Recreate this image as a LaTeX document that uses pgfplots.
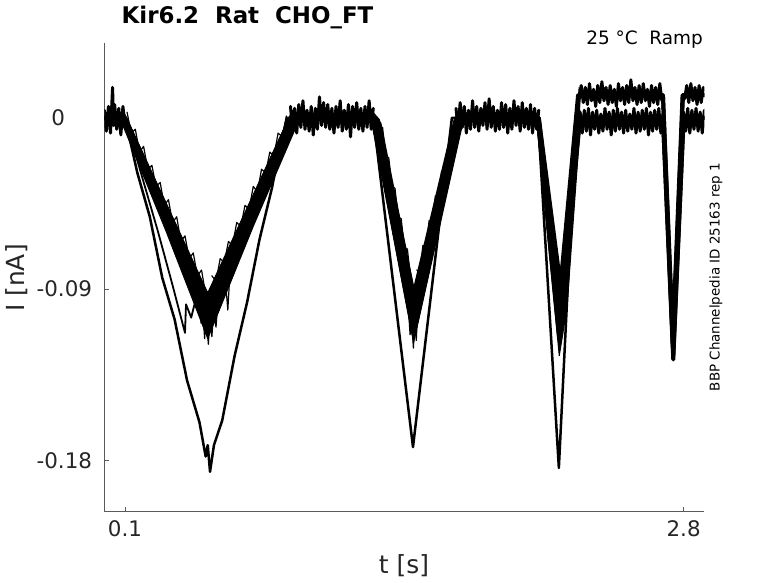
\documentclass[border=0pt]{standalone}
\usepackage{pgfplots}
\pgfplotsset{compat=1.18}
\usepackage{fontspec}
\setmainfont{DejaVu Sans}
\definecolor{axgray}{RGB}{90,90,90}
\definecolor{txt}{RGB}{38,38,38}
\begin{document}
\begin{tikzpicture}
\useasboundingbox (-104.3bp,-71.3bp) rectangle (673.7bp,511.7bp);
\begin{axis}[
 at={(0bp,0bp)}, anchor=south west,
 width=600bp, height=469bp, scale only axis,
 xmin=0, xmax=2.9, ymin=-0.207, ymax=0.0395,
 axis x line=bottom, axis y line=left,
 axis line style={-, draw=axgray, line width=0.6bp},
 tick style={draw=axgray, line width=0.6bp},
 tick align=inside, major tick length=5bp,
 xtick={0.1,2.8}, xticklabels={0.1,2.8},
 ytick={-0.18,-0.09,0}, yticklabels={-0.18,-0.09,0\hspace*{12bp}},
 ticklabel style={font=\fontsize{21.5}{24}\selectfont, text=txt},
 xticklabel style={yshift=-5bp},
 yticklabel style={anchor=center, xshift=-40bp},
 every axis plot/.append style={line join=round, line cap=round},
 noise/.style={black, line width=3bp},
 band/.style={black, line width=4bp},
 spikes/.style={black, line width=1.2bp},
 envelope/.style={draw=black, fill=black, line width=1bp},
]
% ---- noise in the flat parts (baseline 0)
\addplot[noise] coordinates {(0.000,0.004)(0.010,-0.007)(0.020,0.006)(0.030,-0.008)(0.040,0.016)(0.045,-0.004)(0.050,0.007)(0.060,-0.006)(0.070,0.005)(0.080,-0.009)(0.090,0.006)(0.100,-0.004)};
\addplot[noise] coordinates {(0.90,0.006)(0.91,-0.007)(0.92,0.005)(0.93,-0.008)(0.94,0.007)(0.95,-0.005)(0.96,0.009)(0.97,-0.006)(0.98,0.004)(0.99,-0.007)(1.00,0.006)(1.01,-0.009)(1.02,0.005)(1.03,-0.006)(1.04,0.011)(1.05,-0.004)(1.06,0.008)(1.07,-0.005)(1.08,0.007)(1.09,-0.006)(1.10,0.005)(1.11,-0.008)(1.12,0.006)(1.13,-0.005)(1.14,0.009)(1.15,-0.007)(1.16,0.004)(1.17,-0.006)(1.18,0.007)(1.19,-0.010)(1.20,0.006)(1.21,-0.005)(1.22,0.008)(1.23,-0.006)(1.24,0.005)(1.25,-0.007)(1.26,0.006)(1.27,-0.005)(1.28,0.009)(1.29,-0.006)(1.30,0.005)};
\addplot[noise] coordinates {(1.70,0.005)(1.71,-0.006)(1.72,0.008)(1.73,-0.005)(1.74,0.006)(1.75,-0.008)(1.76,0.004)(1.77,-0.006)(1.78,0.009)(1.79,-0.005)(1.80,0.006)(1.81,-0.007)(1.82,0.005)(1.83,-0.004)(1.84,0.008)(1.85,-0.006)(1.86,0.010)(1.87,-0.005)(1.88,0.006)(1.89,-0.007)(1.90,0.004)(1.91,-0.006)(1.92,0.008)(1.93,-0.005)(1.94,0.007)(1.95,-0.008)(1.96,0.005)(1.97,-0.006)(1.98,0.009)(1.99,-0.004)(2.00,0.006)(2.01,-0.007)(2.02,0.008)(2.03,-0.005)(2.04,0.005)(2.05,-0.006)(2.06,0.007)(2.07,-0.008)(2.08,0.005)(2.09,-0.006)(2.10,0.004)};
\addplot[noise] coordinates {(2.30,0.003)(2.31,-0.008)(2.32,0.004)(2.33,-0.007)(2.34,0.005)(2.35,-0.009)(2.36,0.003)(2.37,-0.006)(2.38,0.004)(2.39,-0.008)(2.40,0.002)(2.41,-0.007)(2.42,0.005)(2.43,-0.006)(2.44,0.003)(2.45,-0.009)(2.46,0.004)(2.47,-0.007)(2.48,0.005)(2.49,-0.006)(2.50,0.003)(2.51,-0.008)(2.52,0.004)(2.53,-0.007)(2.54,0.002)(2.55,-0.006)(2.56,0.005)(2.57,-0.008)(2.58,0.003)(2.59,-0.007)(2.60,0.004)(2.61,-0.006)(2.62,0.005)(2.63,-0.009)(2.64,0.003)(2.65,-0.007)(2.66,0.004)(2.67,-0.006)(2.68,0.005)(2.69,-0.008)(2.70,0.002)};
\addplot[noise] coordinates {(2.80,0.003)(2.81,-0.007)(2.82,0.005)(2.83,-0.008)(2.84,0.004)(2.85,-0.006)(2.86,0.005)(2.87,-0.007)(2.88,0.003)(2.89,-0.008)(2.90,0.004)};
% ---- noise of the upper group (baseline 0.012)
\addplot[noise] coordinates {(2.295,0.010)(2.305,0.017)(2.315,0.008)(2.325,0.016)(2.335,0.007)(2.345,0.018)(2.355,0.009)(2.365,0.015)(2.375,0.006)(2.385,0.017)(2.395,0.008)(2.405,0.019)(2.415,0.009)(2.425,0.016)(2.435,0.007)(2.445,0.017)(2.455,0.008)(2.465,0.015)(2.475,0.006)(2.485,0.018)(2.495,0.009)(2.505,0.016)(2.515,0.007)(2.525,0.017)(2.535,0.008)(2.545,0.020)(2.555,0.009)(2.565,0.016)(2.575,0.007)(2.585,0.017)(2.595,0.008)(2.605,0.018)(2.615,0.009)(2.625,0.015)(2.635,0.006)(2.645,0.017)(2.655,0.008)(2.665,0.016)(2.675,0.007)(2.685,0.018)(2.695,0.009)};
\addplot[noise] coordinates {(2.805,0.010)(2.815,0.017)(2.825,0.008)(2.835,0.018)(2.845,0.009)(2.855,0.016)(2.865,0.007)(2.875,0.017)(2.885,0.008)(2.895,0.016)};
% ---- envelope of the overlapping sweeps in the three long ramps
\addplot[envelope] coordinates {(0.09,0.004)(0.30,-0.045)(0.50,-0.092)(0.70,-0.045)(0.91,0.004)(0.93,-0.004)(0.72,-0.057)(0.50,-0.116)(0.30,-0.060)(0.09,-0.004)} -- cycle;
\addplot[envelope] coordinates {(1.29,0.004)(1.33,-0.001)(1.497,-0.090)(1.589,-0.050)(1.712,0.004)(1.73,-0.004)(1.623,-0.056)(1.495,-0.118)(1.347,-0.034)(1.295,-0.004)} -- cycle;
\addplot[envelope] coordinates {(2.095,0.004)(2.168,-0.058)(2.205,-0.086)(2.213,-0.088)(2.265,-0.025)(2.288,0.006)(2.295,0.016)(2.30,-0.004)(2.236,-0.100)(2.199,-0.125)(2.145,-0.065)(2.092,-0.004)} -- cycle;
% ---- noise on the upper edge of the band
\addplot[spikes] coordinates {(0.11,0.003)(0.13,-0.008)(0.15,-0.006)(0.17,-0.018)(0.19,-0.015)(0.21,-0.027)(0.23,-0.025)(0.25,-0.036)(0.27,-0.034)(0.29,-0.046)(0.31,-0.043)(0.33,-0.055)(0.35,-0.052)(0.37,-0.065)(0.39,-0.062)(0.41,-0.074)(0.43,-0.071)(0.45,-0.083)(0.47,-0.080)(0.49,-0.093)};
\addplot[spikes] coordinates {(0.52,-0.083)(0.54,-0.086)(0.56,-0.074)(0.58,-0.076)(0.60,-0.065)(0.62,-0.067)(0.64,-0.055)(0.66,-0.057)(0.68,-0.046)(0.70,-0.048)(0.72,-0.036)(0.74,-0.039)(0.76,-0.027)(0.78,-0.029)(0.80,-0.018)(0.82,-0.020)(0.84,-0.008)(0.86,-0.010)(0.88,0.001)};
\addplot[spikes] coordinates {(1.345,-0.005)(1.36,-0.020)(1.375,-0.021)(1.39,-0.036)(1.405,-0.037)(1.42,-0.052)(1.435,-0.053)(1.45,-0.068)(1.465,-0.069)(1.48,-0.084)};
\addplot[spikes] coordinates {(1.51,-0.080)(1.525,-0.081)(1.54,-0.067)(1.555,-0.068)(1.57,-0.054)(1.585,-0.055)(1.60,-0.041)(1.615,-0.042)(1.63,-0.028)(1.645,-0.028)(1.66,-0.015)(1.675,-0.015)(1.69,-0.002)};
% ---- sweeps
\addplot[band] coordinates {(0,0)(0.1,0)(0.5,-0.095)(0.9,0)(1.3,0)(1.33,-0.003)(1.495,-0.093)(1.70,0)(2.10,0)(2.205,-0.088)(2.29,0.012)(2.70,0.012)(2.748,-0.115)(2.795,0.012)(2.9,0.012)};
\addplot[band] coordinates {(0,0)(0.1,0)(0.5,-0.101)(0.9,0)(1.3,0)(1.495,-0.100)(1.705,0)(2.10,0)(2.20,-0.097)(2.295,0.012)(2.70,0.012)(2.748,-0.120)(2.797,0.012)(2.9,0.012)};
\addplot[band] coordinates {(0,0)(0.1,0)(0.505,-0.106)(0.905,0)(1.3,0)(1.49,-0.106)(1.715,0)(2.095,0)(2.20,-0.105)(2.298,0)(2.70,0)(2.75,-0.125)(2.80,0)(2.9,0)};
\addplot[band] coordinates {(0,0)(0.1,0)(0.50,-0.112)(0.91,0)(1.298,0)(1.495,-0.114)(1.725,0)(2.095,0)(2.198,-0.115)(2.30,0)(2.70,0)(2.75,-0.127)(2.80,0)(2.9,0)};
% ---- spikes below the band near the minima
\addplot[spikes] coordinates {(0.46,-0.095)(0.468,-0.108)(0.475,-0.100)(0.485,-0.116)(0.492,-0.104)(0.503,-0.119)(0.51,-0.106)(0.52,-0.115)(0.528,-0.102)(0.54,-0.110)(0.55,-0.095)};
\addplot[spikes] coordinates {(0.585,-0.085)(0.597,-0.101)(0.607,-0.082)};
\addplot[spikes] coordinates {(1.47,-0.100)(1.478,-0.114)(1.485,-0.106)(1.494,-0.121)(1.50,-0.108)(1.508,-0.117)(1.515,-0.100)};
% M (a sweep that dips early)
\addplot[black, line width=1.8bp] coordinates {(0.1,0)(0.26,-0.060)(0.33,-0.088)(0.39,-0.113)(0.395,-0.098)(0.42,-0.105)(0.45,-0.092)(0.50,-0.108)(0.60,-0.082)};
% C (deep sweep)
\addplot[black, line width=2.5bp] coordinates {(0,0)(0.1,0)(0.16,-0.029)(0.22,-0.052)(0.28,-0.084)(0.34,-0.106)(0.40,-0.138)(0.46,-0.160)(0.49,-0.178)(0.50,-0.172)(0.511,-0.186)(0.53,-0.172)(0.57,-0.159)(0.63,-0.125)(0.69,-0.097)(0.75,-0.064)(0.81,-0.037)(0.85,-0.015)(0.883,0)(1.30,0)(1.492,-0.173)(1.68,0)(2.096,0)(2.197,-0.184)(2.28,0)(2.70,0)(2.75,-0.127)(2.80,0)(2.9,0)};
\end{axis}
\node[font=\bfseries\fontsize{23}{26}\selectfont, inner sep=0] at (143.2bp,493.7bp) {Kir6.2\ \ Rat\ \ CHO\_FT};
\node[anchor=east, inner sep=0, font=\fontsize{18.5}{21}\selectfont] at (598.7bp,471.7bp) {25 °C\ \ Ramp};
\node[rotate=90, inner sep=0, font=\fontsize{13.5}{15}\selectfont] at (611.7bp,234.7bp) {BBP Channelpedia ID 25163 rep 1};
\node[rotate=90, inner sep=0, text=txt, font=\fontsize{25}{28}\selectfont] at (-87.3bp,233.7bp) {I [nA]};
\node[inner sep=0, text=txt, font=\fontsize{25}{28}\selectfont] at (299.7bp,-54.3bp) {t [s]};
\end{tikzpicture}
\end{document}
